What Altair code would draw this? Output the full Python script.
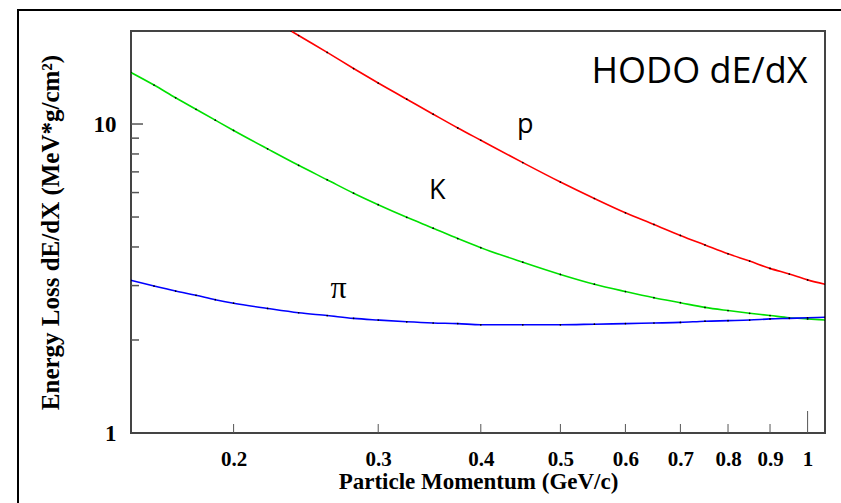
import altair as alt
import pandas as pd

# Particle momentum (GeV/c) sample points
p_mom = [0.235, 0.24, 0.26, 0.28, 0.3, 0.325, 0.35, 0.375, 0.4, 0.45, 0.5, 0.55, 0.6,
         0.65, 0.7, 0.75, 0.8, 0.85, 0.9, 0.95, 1.0, 1.05]
p_dedx = [20.0, 19.34, 17.05, 15.12, 13.57, 12.03, 10.76, 9.71, 8.86, 7.50, 6.49, 5.74, 5.16,
          4.73, 4.36, 4.06, 3.80, 3.60, 3.41, 3.27, 3.13, 3.03]

km_mom = [0.15, 0.16, 0.17, 0.18, 0.19, 0.2, 0.22, 0.24, 0.26, 0.28, 0.3, 0.325, 0.35, 0.375,
          0.4, 0.45, 0.5, 0.55, 0.6, 0.65, 0.7, 0.75, 0.8, 0.85, 0.9, 0.95, 1.0, 1.05]
k_dedx = [14.68, 13.37, 12.16, 11.16, 10.29, 9.53, 8.31, 7.35, 6.60, 5.97, 5.48, 4.99, 4.60, 4.26,
          3.98, 3.57, 3.26, 3.03, 2.87, 2.74, 2.64, 2.55, 2.49, 2.44, 2.40, 2.36, 2.34, 2.32]
pi_dedx = [3.12, 2.99, 2.88, 2.79, 2.70, 2.63, 2.53, 2.45, 2.40, 2.35, 2.32, 2.29, 2.27, 2.26,
           2.24, 2.24, 2.24, 2.25, 2.26, 2.27, 2.28, 2.30, 2.31, 2.32, 2.34, 2.35, 2.36, 2.37]

x_major = [0.2, 0.3, 0.4, 0.5, 0.6, 0.7, 0.8, 0.9]
x_unit = [1.0]
y_minor = [2, 3, 4, 5, 6, 7, 8, 9]
y_major = [10]

labels = ["p", "K"]
label_x = [0.453, 0.354]
label_y = [9.89, 6.09]

W, H = 694, 402
SERIF = "Liberation Serif"

xs = alt.Scale(type="log", domain=[0.15, 1.05], nice=False, zero=False)
ys = alt.Scale(type="log", domain=[1, 20], nice=False, zero=False)

xaxis = alt.Axis(values=[0.2, 0.3, 0.4, 0.5, 0.6, 0.7, 0.8, 0.9, 1.0], format="~g",
                 grid=False, ticks=False, domain=False, labelFont=SERIF,
                 labelFontWeight="bold", labelFontSize=21, labelColor="black",
                 labelPadding=15, title="Particle Momentum (GeV/c)", titleFont=SERIF,
                 titleFontWeight="bold", titleFontSize=23, titleColor="black",
                 titlePadding=1, labelFlush=False)
yaxis = alt.Axis(values=[1, 10], format="~g", grid=False, ticks=False, domain=False,
                 labelFont=SERIF, labelFontWeight="bold", labelFontSize=23,
                 labelColor="black", labelPadding=15,
                 title="Energy Loss dE/dX (MeV*g/cm²)", titleFont=SERIF,
                 titleFontWeight="bold", titleFontSize=25, titleColor="black",
                 titlePadding=30)

df_p = pd.DataFrame({"mom": p_mom, "dedx": p_dedx})
df_k = pd.DataFrame({"mom": km_mom, "dedx": k_dedx})
df_pi = pd.DataFrame({"mom": km_mom, "dedx": pi_dedx})


def curve(df, color):
    line = alt.Chart(df).mark_line(color=color, strokeWidth=1.6, clip=True, interpolate="monotone").encode(
        x=alt.X("mom:Q", scale=xs, axis=xaxis),
        y=alt.Y("dedx:Q", scale=ys, axis=yaxis),
    )
    pts = alt.Chart(df).mark_point(filled=True, color="black", size=3, opacity=1, clip=True).encode(
        x=alt.X("mom:Q", scale=xs), y=alt.Y("dedx:Q", scale=ys)
    )
    return [line, pts]


tick_color = "#555555"
xt = alt.Chart(pd.DataFrame({"v": x_major})).mark_rule(color=tick_color, strokeWidth=1).encode(
    x=alt.X("v:Q", scale=xs), y=alt.value(H), y2=alt.value(H - 9))
xt1 = alt.Chart(pd.DataFrame({"v": x_unit})).mark_rule(color=tick_color, strokeWidth=1).encode(
    x=alt.X("v:Q", scale=xs), y=alt.value(H), y2=alt.value(H - 22))
yt = alt.Chart(pd.DataFrame({"v": y_minor})).mark_rule(color=tick_color, strokeWidth=1.5).encode(
    y=alt.Y("v:Q", scale=ys), x=alt.value(0), x2=alt.value(8))
yt10 = alt.Chart(pd.DataFrame({"v": y_major})).mark_rule(color=tick_color, strokeWidth=1.5).encode(
    y=alt.Y("v:Q", scale=ys), x=alt.value(0), x2=alt.value(12))

lab = alt.Chart(pd.DataFrame({"t": labels, "x": label_x, "y": label_y})).mark_text(
    font="Open Sans", fontSize=27, color="black", align="center", baseline="middle").encode(
    x=alt.X("x:Q", scale=xs), y=alt.Y("y:Q", scale=ys), text="t:N")
pi_lab = alt.Chart(pd.DataFrame({"t": ["π"], "x": [0.2685], "y": [2.94]})).mark_text(
    font=SERIF, fontSize=32, color="black", align="center", baseline="middle").encode(
    x=alt.X("x:Q", scale=xs), y=alt.Y("y:Q", scale=ys), text="t:N")
title_lab = alt.Chart(pd.DataFrame({"t": ["HODO dE/dX"], "x": [1.0], "y": [14.7]})).mark_text(
    font="Open Sans", fontSize=36, color="black", align="right", baseline="middle").encode(
    x=alt.X("x:Q", scale=xs), y=alt.Y("y:Q", scale=ys), text="t:N")

frame_left = alt.Chart(pd.DataFrame({"a": [0]})).mark_rule(color="black", strokeWidth=2, clip=False).encode(
    x=alt.value(-113), y=alt.value(-21), y2=alt.value(480))
frame_top = alt.Chart(pd.DataFrame({"a": [0]})).mark_rule(color="black", strokeWidth=2, clip=False).encode(
    x=alt.value(-114), x2=alt.value(720), y=alt.value(-21))

layers = []
layers += curve(df_p, "#ff0000")
layers += curve(df_k, "#00e000")
layers += curve(df_pi, "#0000ff")
layers += [xt, xt1, yt, yt10, lab, pi_lab, title_lab, frame_left, frame_top]

chart = alt.layer(*layers).properties(
    width=W, height=H,
    autosize=alt.AutoSizeParams(type="none"),
    padding={"left": 131, "top": 31, "right": 16, "bottom": 70},
    background="white",
).configure_view(stroke="#444444", strokeWidth=2)

chart.save("out.html", embed_options={"renderer": "svg", "actions": False})
